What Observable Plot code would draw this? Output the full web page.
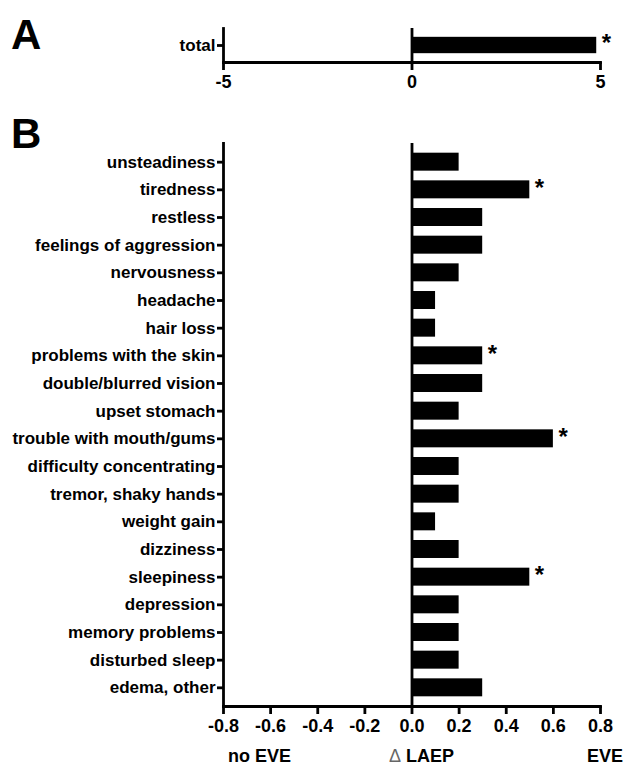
<!DOCTYPE html>
<html>
<head>
<meta charset="utf-8">
<script src="https://cdn.jsdelivr.net/npm/d3@7"></script>
<script src="https://cdn.jsdelivr.net/npm/@observablehq/plot@0.6"></script>
<style>
  body { margin: 0; background: #fff; }
  #wrap { position: relative; width: 626px; height: 767px; font-family: "Liberation Sans", Arial, sans-serif; font-weight: bold; color: #000; }
  .panel { position: absolute; left: 0; }
  .big { position: absolute; font-size: 42px; font-weight: bold; line-height: 1; }
  .foot { position: absolute; top: 747px; font-size: 18px; font-weight: bold; line-height: 1; }
</style>
</head>
<body>
<div id="wrap">
  <div class="big" style="left:11px; top:14px;">A</div>
  <div class="big" style="left:11px; top:113px;">B</div>
  <div id="pa" class="panel" style="top:0px;"></div>
  <div id="pb" class="panel" style="top:100px;"></div>
  <div class="foot" style="left:228px;">no EVE</div>
  <div class="foot" style="left:389px;"><span style="color:#666; font-weight:normal;">&#916;</span> LAEP</div>
  <div class="foot" style="right:3px;">EVE</div>
</div>
<script>
// Panel A data
const totalCategories = ["total"];
const totalValues = [4.9];
const totalSignificant = [true];
const totalTicks = [-5, 0, 5];

// Panel B data
const symptoms = [
  "unsteadiness", "tiredness", "restless", "feelings of aggression", "nervousness",
  "headache", "hair loss", "problems with the skin", "double/blurred vision", "upset stomach",
  "trouble with mouth/gums", "difficulty concentrating", "tremor, shaky hands", "weight gain", "dizziness",
  "sleepiness", "depression", "memory problems", "disturbed sleep", "edema, other"
];
const symptomValues = [0.2, 0.5, 0.3, 0.3, 0.2, 0.1, 0.1, 0.3, 0.3, 0.2, 0.6, 0.2, 0.2, 0.1, 0.2, 0.5, 0.2, 0.2, 0.2, 0.3];
const symptomSignificant = [false, true, false, false, false, false, false, true, false, false, true, false, false, false, false, true, false, false, false, false];
const symptomTicks = [-0.8, -0.6, -0.4, -0.2, 0.0, 0.2, 0.4, 0.6, 0.8];

const totalData = totalCategories.map((c, i) => ({cat: c, value: totalValues[i], sig: totalSignificant[i]}));
const symptomData = symptoms.map((c, i) => ({cat: c, value: symptomValues[i], sig: symptomSignificant[i]}));

const baseStyle = {fontFamily: "'Liberation Sans', Arial, sans-serif", fontSize: "17px", fontWeight: "bold", color: "#000", background: "transparent", overflow: "visible"};
const SW = 2.8;
const hyphen = f => d => f(d).replace("\u2212", "-");

function panel({data, domain, ticks, fmt, height, marginTop, marginBottom, bandPadding}) {
  return Plot.plot({
    width: 626,
    height,
    marginLeft: 223,
    marginRight: 26,
    marginTop,
    marginBottom,
    style: baseStyle,
    x: {domain, label: null},
    y: {domain: data.map(d => d.cat), padding: bandPadding, round: false, label: null},
    marks: [
      Plot.barX(data, {x: "value", y: "cat", fill: "#000"}),
      Plot.ruleX([0], {stroke: "#000", strokeWidth: SW}),
      Plot.frame({anchor: "left", stroke: "#000", strokeWidth: SW}),
      Plot.frame({anchor: "bottom", stroke: "#000", strokeWidth: SW}),
      Plot.axisY({tickSize: 6, tickPadding: 2, strokeWidth: SW, fontSize: 17, fontWeight: "bold"}),
      Plot.axisX({ticks, tickFormat: hyphen(fmt), tickSize: 8, tickPadding: 5, strokeWidth: SW, fontSize: 18, fontWeight: "bold"}),
      Plot.text(data.filter(d => d.sig), {x: "value", y: "cat", text: () => "*", textAnchor: "start", dx: 5, dy: -2, fontSize: 24, fontWeight: "bold"})
    ]
  });
}

document.getElementById("pa").appendChild(panel({
  data: totalData, domain: [-5, 5], ticks: totalTicks, fmt: d3.format("d"),
  height: 100, marginTop: 28, marginBottom: 38, bandPadding: 0.35
}));

document.getElementById("pb").appendChild(panel({
  data: symptomData, domain: [-0.8, 0.8], ticks: symptomTicks, fmt: d3.format(".1f"),
  height: 640, marginTop: 43, marginBottom: 34, bandPadding: 0.35
}));
</script>
</body>
</html>
